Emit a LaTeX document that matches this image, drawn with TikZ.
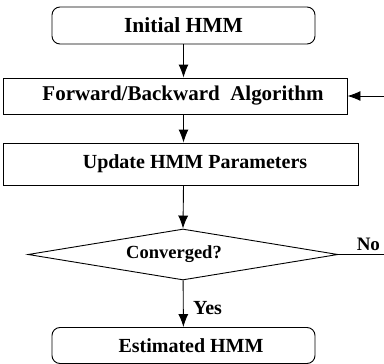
\documentclass[tikz,border=0pt]{standalone}
\usepackage{fontspec}
\setmainfont{Liberation Serif}
\usetikzlibrary{arrows.meta,shapes.geometric}

\begin{document}
\begin{tikzpicture}[x=1pt,y=-1pt,>={Latex[length=13pt,width=10pt]},
    line width=0.9pt,
    font=\fontsize{20}{24}\selectfont\bfseries,
    term/.style={draw,rounded corners=8pt,minimum width=263pt,minimum height=37pt,inner sep=0pt},
    stepbox/.style={draw,minimum height=36pt,inner sep=0pt},
    decide/.style={draw,diamond,aspect=6.08,minimum width=310pt,minimum height=51pt,inner sep=0pt}]
    \useasboundingbox (0,0) rectangle (384,364);
    \node[term,font=\fontsize{21.5}{24}\selectfont\bfseries] (init) at (183.5,25.5) {Initial HMM};
    \node[stepbox,minimum width=344pt,font=\fontsize{21}{24}\selectfont\bfseries] (fb) at (175,96) {\hspace*{16pt}Forward/Backward\ \ Algorithm};
    \node[stepbox,minimum width=355pt,minimum height=42pt] (upd) at (180.5,164) {\hspace*{29pt}Update HMM Parameters};
    \node[decide,font=\fontsize{18.5}{22}\selectfont\bfseries] (conv) at (183,254.5) {\raisebox{-3pt}{Converged?}\hspace*{18pt}};
    \node[term,minimum height=36pt] (est) at (183.5,345.5) {\hspace*{15pt}Estimated HMM};
    \coordinate (back) at (396,254.5);
    \path[->]
    (init) edge (init.south |- fb.north)
    (fb.south -| init.south) edge (init.south |- upd.north)
    (upd.south -| init.south) edge (conv.north)
    (conv) edge node[right,pos=0.6,xshift=6pt] {Yes} (est);
    \draw[->] (conv.east) -- node[above,pos=0.52,yshift=0pt,font=\fontsize{19}{22}\selectfont\bfseries] {No} (back) |- (fb.east);
\end{tikzpicture}
\end{document}
